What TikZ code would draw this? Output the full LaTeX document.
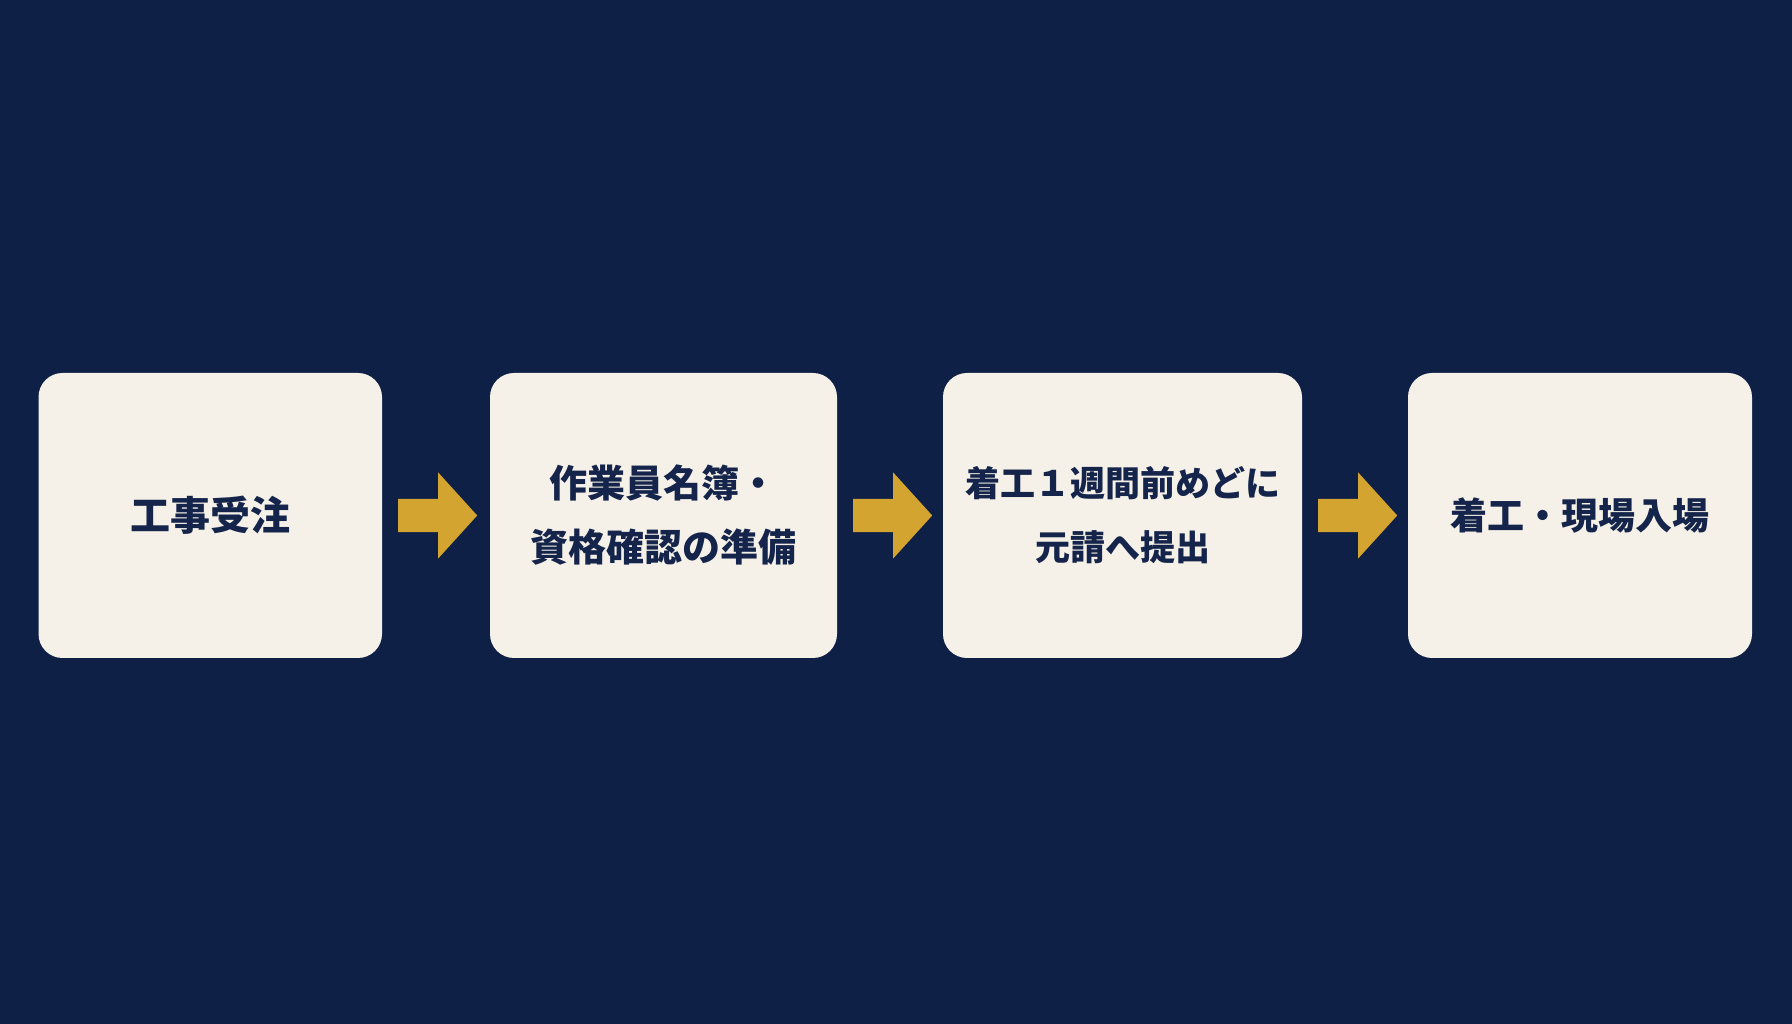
\documentclass[tikz,border=0pt]{standalone}
\usepackage{fontspec}
\newfontfamily\jp{Noto Sans CJK JP}
\usetikzlibrary{calc}
\definecolor{bgnavy}{HTML}{0F2046}
\definecolor{cream}{HTML}{F5F1E8}
\definecolor{gold}{HTML}{D4A431}
\definecolor{ink}{HTML}{14244A}
\tikzset{
  stepbox/.style={rectangle, rounded corners=24pt, fill=cream, inner sep=0pt,
    minimum height=285pt, align=center, text=ink, font=\jp\bfseries\fontsize{37}{64}\selectfont},
  goldarrow/.style={fill=gold, draw=none}
}
\newcommand{\flowarrow}[2]{%
  \fill[goldarrow] ($(#1.east)+(16pt,16.7pt)$) -- ($(#1.east)+(56pt,16.7pt)$) -- ($(#1.east)+(56pt,43pt)$)
    -- ($(#1.east)+(95pt,0pt)$) -- ($(#1.east)+(56pt,-43pt)$) -- ($(#1.east)+(56pt,-16.7pt)$)
    -- ($(#1.east)+(16pt,-16.7pt)$) -- cycle;}
\begin{document}
\begin{tikzpicture}[x=1pt,y=1pt]
\fill[bgnavy] (0,0) rectangle (1792,1024);
\useasboundingbox (0,0) rectangle (1792,1024);
\node[stepbox, minimum width=343.5pt, font=\jp\bfseries\fontsize{40}{64}\selectfont] (b1) at (210.25,508.5) {工事受注};
\node[stepbox, minimum width=347pt, font=\jp\bfseries\fontsize{38}{64}\selectfont] (b2) at (663.5,508.5) {作業員名簿・\\資格確認の準備};
\node[stepbox, minimum width=359pt, font=\jp\bfseries\fontsize{35}{64}\selectfont] (b3) at (1122.5,508.5) {着工１週間前めどに\\元請へ提出};
\node[stepbox, minimum width=344pt] (b4) at (1580,508.5) {着工・現場入場};
\flowarrow{b1}{b2}
\flowarrow{b2}{b3}
\flowarrow{b3}{b4}
\end{tikzpicture}
\end{document}
